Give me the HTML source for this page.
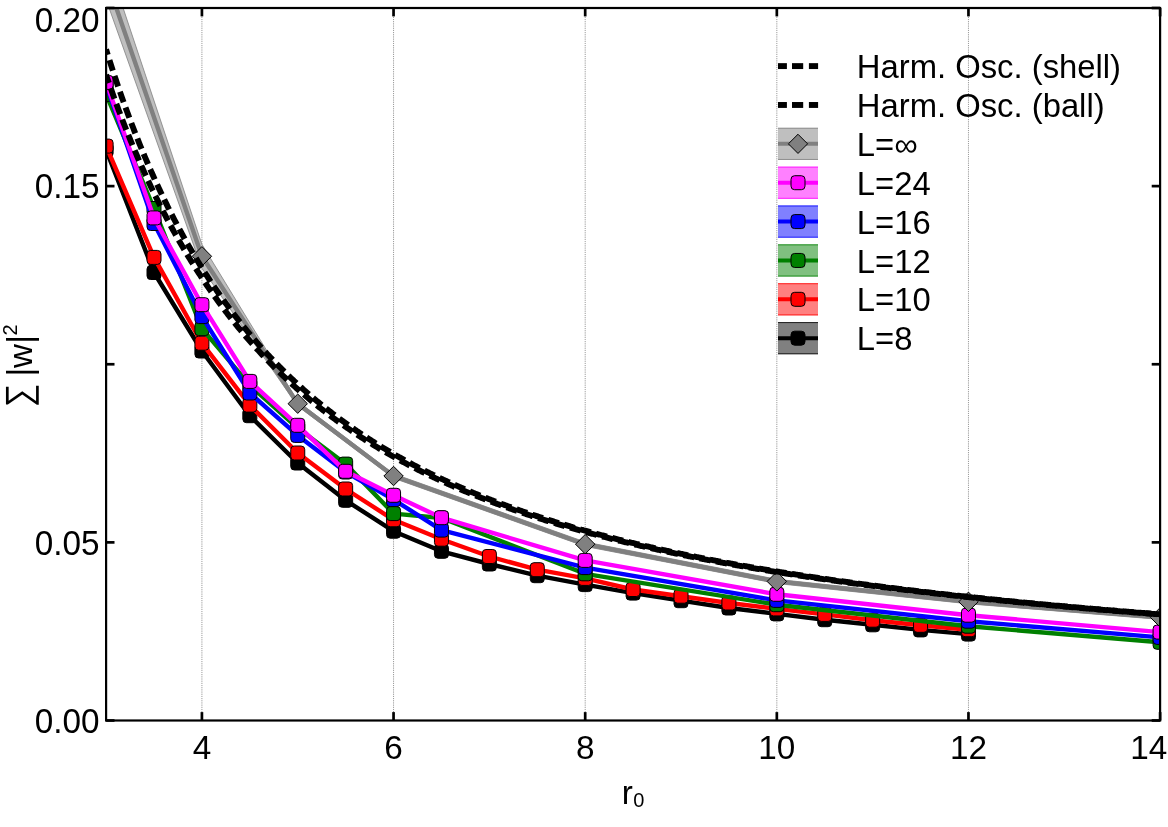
<!DOCTYPE html><html><head><meta charset="utf-8"><title>plot</title><style>html,body{margin:0;padding:0;background:#fff}svg{display:block;will-change:transform}text{font-family:"Liberation Sans",sans-serif;fill:#000}</style></head><body>
<svg width="1168" height="827" viewBox="0 0 1168 827">
<rect x="0" y="0" width="1168" height="827" fill="#fff"/>
<defs><clipPath id="ax"><rect x="106.1" y="8.0" width="1054.0" height="712.5"/></clipPath></defs>
<line x1="201.92" y1="8.0" x2="201.92" y2="720.5" stroke="#787878" stroke-width="1" stroke-dasharray="0.75,1.1"/>
<line x1="393.55" y1="8.0" x2="393.55" y2="720.5" stroke="#787878" stroke-width="1" stroke-dasharray="0.75,1.1"/>
<line x1="585.19" y1="8.0" x2="585.19" y2="720.5" stroke="#787878" stroke-width="1" stroke-dasharray="0.75,1.1"/>
<line x1="776.83" y1="8.0" x2="776.83" y2="720.5" stroke="#787878" stroke-width="1" stroke-dasharray="0.75,1.1"/>
<line x1="968.46" y1="8.0" x2="968.46" y2="720.5" stroke="#787878" stroke-width="1" stroke-dasharray="0.75,1.1"/>
<g clip-path="url(#ax)">
<polygon points="106.1,-43.0 201.9,244.3 297.7,401.3 393.6,473.8 585.2,542.0 776.8,579.3 968.5,599.8 1160.1,615.4 1160.1,619.4 968.5,603.8 776.8,583.5 585.2,546.4 393.6,478.2 297.7,406.1 201.9,268.3 106.1,-0.4" fill="#bfbfbf" stroke="#808080" stroke-width="0.8"/>
<polyline points="106.10,150.00 154.01,272.50 201.92,351.00 249.83,415.70 297.74,463.00 345.65,500.30 393.55,531.20 441.46,551.30 489.37,564.00 537.28,575.70 585.19,584.60 633.10,593.10 681.01,600.70 728.92,608.00 776.83,613.90 824.74,619.70 872.65,624.80 920.55,629.90 968.46,634.10" fill="none" stroke="#000000" stroke-width="4.4" stroke-linejoin="round"/>
<rect x="99.10" y="143.00" width="14.0" height="14.0" rx="3.6" ry="3.6" fill="#000000" stroke="#000" stroke-width="1"/>
<rect x="147.01" y="265.50" width="14.0" height="14.0" rx="3.6" ry="3.6" fill="#000000" stroke="#000" stroke-width="1"/>
<rect x="194.92" y="344.00" width="14.0" height="14.0" rx="3.6" ry="3.6" fill="#000000" stroke="#000" stroke-width="1"/>
<rect x="242.83" y="408.70" width="14.0" height="14.0" rx="3.6" ry="3.6" fill="#000000" stroke="#000" stroke-width="1"/>
<rect x="290.74" y="456.00" width="14.0" height="14.0" rx="3.6" ry="3.6" fill="#000000" stroke="#000" stroke-width="1"/>
<rect x="338.65" y="493.30" width="14.0" height="14.0" rx="3.6" ry="3.6" fill="#000000" stroke="#000" stroke-width="1"/>
<rect x="386.55" y="524.20" width="14.0" height="14.0" rx="3.6" ry="3.6" fill="#000000" stroke="#000" stroke-width="1"/>
<rect x="434.46" y="544.30" width="14.0" height="14.0" rx="3.6" ry="3.6" fill="#000000" stroke="#000" stroke-width="1"/>
<rect x="482.37" y="557.00" width="14.0" height="14.0" rx="3.6" ry="3.6" fill="#000000" stroke="#000" stroke-width="1"/>
<rect x="530.28" y="568.70" width="14.0" height="14.0" rx="3.6" ry="3.6" fill="#000000" stroke="#000" stroke-width="1"/>
<rect x="578.19" y="577.60" width="14.0" height="14.0" rx="3.6" ry="3.6" fill="#000000" stroke="#000" stroke-width="1"/>
<rect x="626.10" y="586.10" width="14.0" height="14.0" rx="3.6" ry="3.6" fill="#000000" stroke="#000" stroke-width="1"/>
<rect x="674.01" y="593.70" width="14.0" height="14.0" rx="3.6" ry="3.6" fill="#000000" stroke="#000" stroke-width="1"/>
<rect x="721.92" y="601.00" width="14.0" height="14.0" rx="3.6" ry="3.6" fill="#000000" stroke="#000" stroke-width="1"/>
<rect x="769.83" y="606.90" width="14.0" height="14.0" rx="3.6" ry="3.6" fill="#000000" stroke="#000" stroke-width="1"/>
<rect x="817.74" y="612.70" width="14.0" height="14.0" rx="3.6" ry="3.6" fill="#000000" stroke="#000" stroke-width="1"/>
<rect x="865.65" y="617.80" width="14.0" height="14.0" rx="3.6" ry="3.6" fill="#000000" stroke="#000" stroke-width="1"/>
<rect x="913.55" y="622.90" width="14.0" height="14.0" rx="3.6" ry="3.6" fill="#000000" stroke="#000" stroke-width="1"/>
<rect x="961.46" y="627.10" width="14.0" height="14.0" rx="3.6" ry="3.6" fill="#000000" stroke="#000" stroke-width="1"/>
<polyline points="106.10,146.10 154.01,257.40 201.92,343.20 249.83,405.10 297.74,453.00 345.65,489.00 393.55,519.80 441.46,539.20 489.37,556.50 537.28,569.70 585.19,578.40 633.10,589.50 681.01,596.20 728.92,603.00 776.83,608.90 824.74,614.40 872.65,620.20 920.55,625.30 968.46,629.70" fill="none" stroke="#ff0000" stroke-width="4.4" stroke-linejoin="round"/>
<rect x="99.10" y="139.10" width="14.0" height="14.0" rx="3.6" ry="3.6" fill="#ff0000" stroke="#000" stroke-width="1"/>
<rect x="147.01" y="250.40" width="14.0" height="14.0" rx="3.6" ry="3.6" fill="#ff0000" stroke="#000" stroke-width="1"/>
<rect x="194.92" y="336.20" width="14.0" height="14.0" rx="3.6" ry="3.6" fill="#ff0000" stroke="#000" stroke-width="1"/>
<rect x="242.83" y="398.10" width="14.0" height="14.0" rx="3.6" ry="3.6" fill="#ff0000" stroke="#000" stroke-width="1"/>
<rect x="290.74" y="446.00" width="14.0" height="14.0" rx="3.6" ry="3.6" fill="#ff0000" stroke="#000" stroke-width="1"/>
<rect x="338.65" y="482.00" width="14.0" height="14.0" rx="3.6" ry="3.6" fill="#ff0000" stroke="#000" stroke-width="1"/>
<rect x="386.55" y="512.80" width="14.0" height="14.0" rx="3.6" ry="3.6" fill="#ff0000" stroke="#000" stroke-width="1"/>
<rect x="434.46" y="532.20" width="14.0" height="14.0" rx="3.6" ry="3.6" fill="#ff0000" stroke="#000" stroke-width="1"/>
<rect x="482.37" y="549.50" width="14.0" height="14.0" rx="3.6" ry="3.6" fill="#ff0000" stroke="#000" stroke-width="1"/>
<rect x="530.28" y="562.70" width="14.0" height="14.0" rx="3.6" ry="3.6" fill="#ff0000" stroke="#000" stroke-width="1"/>
<rect x="578.19" y="571.40" width="14.0" height="14.0" rx="3.6" ry="3.6" fill="#ff0000" stroke="#000" stroke-width="1"/>
<rect x="626.10" y="582.50" width="14.0" height="14.0" rx="3.6" ry="3.6" fill="#ff0000" stroke="#000" stroke-width="1"/>
<rect x="674.01" y="589.20" width="14.0" height="14.0" rx="3.6" ry="3.6" fill="#ff0000" stroke="#000" stroke-width="1"/>
<rect x="721.92" y="596.00" width="14.0" height="14.0" rx="3.6" ry="3.6" fill="#ff0000" stroke="#000" stroke-width="1"/>
<rect x="769.83" y="601.90" width="14.0" height="14.0" rx="3.6" ry="3.6" fill="#ff0000" stroke="#000" stroke-width="1"/>
<rect x="817.74" y="607.40" width="14.0" height="14.0" rx="3.6" ry="3.6" fill="#ff0000" stroke="#000" stroke-width="1"/>
<rect x="865.65" y="613.20" width="14.0" height="14.0" rx="3.6" ry="3.6" fill="#ff0000" stroke="#000" stroke-width="1"/>
<rect x="913.55" y="618.30" width="14.0" height="14.0" rx="3.6" ry="3.6" fill="#ff0000" stroke="#000" stroke-width="1"/>
<rect x="961.46" y="622.70" width="14.0" height="14.0" rx="3.6" ry="3.6" fill="#ff0000" stroke="#000" stroke-width="1"/>
<polyline points="106.10,94.40 154.01,208.50 201.92,328.60 249.83,385.20 297.74,428.00 345.65,464.10 393.55,513.60 441.46,518.00 585.19,573.80 776.83,604.70 968.46,626.20 1160.10,642.30" fill="none" stroke="#008000" stroke-width="4.4" stroke-linejoin="round"/>
<rect x="99.10" y="87.40" width="14.0" height="14.0" rx="3.6" ry="3.6" fill="#008000" stroke="#000" stroke-width="1"/>
<rect x="147.01" y="201.50" width="14.0" height="14.0" rx="3.6" ry="3.6" fill="#008000" stroke="#000" stroke-width="1"/>
<rect x="194.92" y="321.60" width="14.0" height="14.0" rx="3.6" ry="3.6" fill="#008000" stroke="#000" stroke-width="1"/>
<rect x="242.83" y="378.20" width="14.0" height="14.0" rx="3.6" ry="3.6" fill="#008000" stroke="#000" stroke-width="1"/>
<rect x="290.74" y="421.00" width="14.0" height="14.0" rx="3.6" ry="3.6" fill="#008000" stroke="#000" stroke-width="1"/>
<rect x="338.65" y="457.10" width="14.0" height="14.0" rx="3.6" ry="3.6" fill="#008000" stroke="#000" stroke-width="1"/>
<rect x="386.55" y="506.60" width="14.0" height="14.0" rx="3.6" ry="3.6" fill="#008000" stroke="#000" stroke-width="1"/>
<rect x="434.46" y="511.00" width="14.0" height="14.0" rx="3.6" ry="3.6" fill="#008000" stroke="#000" stroke-width="1"/>
<rect x="578.19" y="566.80" width="14.0" height="14.0" rx="3.6" ry="3.6" fill="#008000" stroke="#000" stroke-width="1"/>
<rect x="769.83" y="597.70" width="14.0" height="14.0" rx="3.6" ry="3.6" fill="#008000" stroke="#000" stroke-width="1"/>
<rect x="961.46" y="619.20" width="14.0" height="14.0" rx="3.6" ry="3.6" fill="#008000" stroke="#000" stroke-width="1"/>
<rect x="1153.10" y="635.30" width="14.0" height="14.0" rx="3.6" ry="3.6" fill="#008000" stroke="#000" stroke-width="1"/>
<polyline points="106.10,84.50 154.01,223.50 201.92,316.60 249.83,393.00 297.74,435.40 345.65,472.00 393.55,499.60 441.46,530.10 585.19,567.60 776.83,600.40 968.46,621.20 1160.10,637.40" fill="none" stroke="#0000ff" stroke-width="4.4" stroke-linejoin="round"/>
<rect x="99.10" y="77.50" width="14.0" height="14.0" rx="3.6" ry="3.6" fill="#0000ff" stroke="#000" stroke-width="1"/>
<rect x="147.01" y="216.50" width="14.0" height="14.0" rx="3.6" ry="3.6" fill="#0000ff" stroke="#000" stroke-width="1"/>
<rect x="194.92" y="309.60" width="14.0" height="14.0" rx="3.6" ry="3.6" fill="#0000ff" stroke="#000" stroke-width="1"/>
<rect x="242.83" y="386.00" width="14.0" height="14.0" rx="3.6" ry="3.6" fill="#0000ff" stroke="#000" stroke-width="1"/>
<rect x="290.74" y="428.40" width="14.0" height="14.0" rx="3.6" ry="3.6" fill="#0000ff" stroke="#000" stroke-width="1"/>
<rect x="338.65" y="465.00" width="14.0" height="14.0" rx="3.6" ry="3.6" fill="#0000ff" stroke="#000" stroke-width="1"/>
<rect x="386.55" y="492.60" width="14.0" height="14.0" rx="3.6" ry="3.6" fill="#0000ff" stroke="#000" stroke-width="1"/>
<rect x="434.46" y="523.10" width="14.0" height="14.0" rx="3.6" ry="3.6" fill="#0000ff" stroke="#000" stroke-width="1"/>
<rect x="578.19" y="560.60" width="14.0" height="14.0" rx="3.6" ry="3.6" fill="#0000ff" stroke="#000" stroke-width="1"/>
<rect x="769.83" y="593.40" width="14.0" height="14.0" rx="3.6" ry="3.6" fill="#0000ff" stroke="#000" stroke-width="1"/>
<rect x="961.46" y="614.20" width="14.0" height="14.0" rx="3.6" ry="3.6" fill="#0000ff" stroke="#000" stroke-width="1"/>
<rect x="1153.10" y="630.40" width="14.0" height="14.0" rx="3.6" ry="3.6" fill="#0000ff" stroke="#000" stroke-width="1"/>
<polyline points="106.10,82.40 154.01,217.90 201.92,304.70 249.83,381.40 297.74,425.30 345.65,471.30 393.55,495.30 441.46,517.70 585.19,560.40 776.83,594.30 968.46,615.20 1160.10,632.10" fill="none" stroke="#ff00ff" stroke-width="4.4" stroke-linejoin="round"/>
<rect x="99.10" y="75.40" width="14.0" height="14.0" rx="3.6" ry="3.6" fill="#ff00ff" stroke="#000" stroke-width="1"/>
<rect x="147.01" y="210.90" width="14.0" height="14.0" rx="3.6" ry="3.6" fill="#ff00ff" stroke="#000" stroke-width="1"/>
<rect x="194.92" y="297.70" width="14.0" height="14.0" rx="3.6" ry="3.6" fill="#ff00ff" stroke="#000" stroke-width="1"/>
<rect x="242.83" y="374.40" width="14.0" height="14.0" rx="3.6" ry="3.6" fill="#ff00ff" stroke="#000" stroke-width="1"/>
<rect x="290.74" y="418.30" width="14.0" height="14.0" rx="3.6" ry="3.6" fill="#ff00ff" stroke="#000" stroke-width="1"/>
<rect x="338.65" y="464.30" width="14.0" height="14.0" rx="3.6" ry="3.6" fill="#ff00ff" stroke="#000" stroke-width="1"/>
<rect x="386.55" y="488.30" width="14.0" height="14.0" rx="3.6" ry="3.6" fill="#ff00ff" stroke="#000" stroke-width="1"/>
<rect x="434.46" y="510.70" width="14.0" height="14.0" rx="3.6" ry="3.6" fill="#ff00ff" stroke="#000" stroke-width="1"/>
<rect x="578.19" y="553.40" width="14.0" height="14.0" rx="3.6" ry="3.6" fill="#ff00ff" stroke="#000" stroke-width="1"/>
<rect x="769.83" y="587.30" width="14.0" height="14.0" rx="3.6" ry="3.6" fill="#ff00ff" stroke="#000" stroke-width="1"/>
<rect x="961.46" y="608.20" width="14.0" height="14.0" rx="3.6" ry="3.6" fill="#ff00ff" stroke="#000" stroke-width="1"/>
<rect x="1153.10" y="625.10" width="14.0" height="14.0" rx="3.6" ry="3.6" fill="#ff00ff" stroke="#000" stroke-width="1"/>
<polyline points="106.10,-21.70 201.92,256.30 297.74,403.70 393.55,476.00 585.19,544.20 776.83,581.40 968.46,601.80 1160.10,617.40" fill="none" stroke="#808080" stroke-width="4.4" stroke-linejoin="round"/>
<polygon points="201.92,246.60 211.62,256.30 201.92,266.00 192.22,256.30" fill="#808080" stroke="#000" stroke-width="1"/>
<polygon points="297.74,394.00 307.44,403.70 297.74,413.40 288.04,403.70" fill="#808080" stroke="#000" stroke-width="1"/>
<polygon points="393.55,466.30 403.25,476.00 393.55,485.70 383.85,476.00" fill="#808080" stroke="#000" stroke-width="1"/>
<polygon points="585.19,534.50 594.89,544.20 585.19,553.90 575.49,544.20" fill="#808080" stroke="#000" stroke-width="1"/>
<polygon points="776.83,571.70 786.53,581.40 776.83,591.10 767.13,581.40" fill="#808080" stroke="#000" stroke-width="1"/>
<polygon points="968.46,592.10 978.16,601.80 968.46,611.50 958.76,601.80" fill="#808080" stroke="#000" stroke-width="1"/>
<polygon points="1160.10,607.70 1169.80,617.40 1160.10,627.10 1150.40,617.40" fill="#808080" stroke="#000" stroke-width="1"/>
<path d="M106.10,74.82 L106.98,77.41 L107.86,79.97 L108.74,82.52 L109.62,85.06 L110.50,87.57 L111.37,90.07 L112.25,92.54 L113.13,95.00 L114.01,97.45 L114.89,99.87 L115.77,102.28 L116.65,104.68 L117.53,107.05 L118.41,109.41 L119.29,111.75 L120.17,114.08 L121.04,116.39 L121.92,118.69 L122.80,120.97 L123.68,123.23 L124.56,125.48 L125.44,127.72 L126.32,129.94 L127.20,132.15 L128.08,134.34 L128.96,136.51 L129.83,138.68 L130.71,140.83 L131.59,142.96 L132.47,145.08 L133.35,147.19 L134.23,149.28 L135.11,151.36 L135.99,153.43 L136.87,155.48 L137.75,157.52 L138.63,159.55 L139.50,161.57 L140.38,163.57 L141.26,165.56 L142.14,167.54 L143.02,169.50 L143.90,171.46 L144.78,173.40 L145.66,175.33 L146.54,177.24 L147.42,179.15 L148.30,181.04 L149.17,182.93 L150.05,184.80 L150.93,186.66 L151.81,188.50 L152.69,190.34 L153.57,192.17 L154.45,193.98 L155.33,195.79 L156.21,197.58 L157.09,199.36 L157.96,201.14 L158.84,202.90 L159.72,204.65 L160.60,206.39 L161.48,208.12 L162.36,209.84 L163.24,211.55 L164.12,213.25 L165.00,214.94 L165.88,216.62 L166.76,218.29 L167.63,219.96 L168.51,221.61 L169.39,223.25 L170.27,224.88 L171.15,226.50 L172.03,228.12 L172.91,229.72 L173.79,231.32 L174.67,232.90 L175.55,234.48 L176.43,236.05 L177.30,237.61 L178.18,239.16 L179.06,240.70 L179.94,242.24 L180.82,243.76 L181.70,245.28 L182.58,246.78 L183.46,248.28 L184.34,249.77 L185.22,251.26 L186.09,252.73 L186.97,254.20 L187.85,255.65 L188.73,257.10 L189.61,258.54 L190.49,259.98 L191.37,261.40 L192.25,262.82 L193.13,264.23 L194.01,265.64 L194.89,267.03 L195.76,268.42 L196.64,269.80 L197.52,271.17 L198.40,272.53 L199.28,273.89 L200.16,275.24 L201.04,276.58 L201.92,277.92 L202.80,279.25 L203.68,280.57 L204.56,281.88 L205.43,283.19 L206.31,284.49 L207.19,285.78 L208.07,287.07 L208.95,288.35 L209.83,289.62 L210.71,290.89 L211.59,292.15 L212.47,293.40 L213.35,294.64 L214.23,295.88 L215.10,297.12 L215.98,298.34 L216.86,299.56 L217.74,300.78 L218.62,301.98 L219.50,303.18 L220.38,304.38 L221.26,305.57 L222.14,306.75 L223.02,307.92 L223.89,309.09 L224.77,310.26 L225.65,311.42 L226.53,312.57 L227.41,313.71 L228.29,314.85 L229.17,315.99 L230.05,317.12 L230.93,318.24 L231.81,319.36 L232.69,320.47 L233.56,321.57 L234.44,322.67 L235.32,323.77 L236.20,324.86 L237.08,325.94 L237.96,327.02 L238.84,328.09 L239.72,329.16 L240.60,330.22 L241.48,331.28 L242.36,332.33 L243.23,333.37 L244.11,334.41 L244.99,335.45 L245.87,336.48 L246.75,337.51 L247.63,338.53 L248.51,339.54 L249.39,340.55 L250.27,341.56 L251.15,342.56 L252.02,343.55 L252.90,344.54 L253.78,345.53 L254.66,346.51 L255.54,347.48 L256.42,348.45 L257.30,349.42 L258.18,350.38 L259.06,351.34 L259.94,352.29 L260.82,353.24 L261.69,354.18 L262.57,355.12 L263.45,356.05 L264.33,356.98 L265.21,357.91 L266.09,358.83 L266.97,359.75 L267.85,360.66 L268.73,361.56 L269.61,362.47 L270.49,363.37 L271.36,364.26 L272.24,365.15 L273.12,366.04 L274.00,366.92 L274.88,367.80 L275.76,368.67 L276.64,369.54 L277.52,370.41 L278.40,371.27 L279.28,372.12 L280.16,372.98 L281.03,373.83 L281.91,374.67 L282.79,375.51 L283.67,376.35 L284.55,377.18 L285.43,378.01 L286.31,378.84 L287.19,379.66 L288.07,380.48 L288.95,381.29 L289.82,382.10 L290.70,382.91 L291.58,383.71 L292.46,384.51 L293.34,385.31 L294.22,386.10 L295.10,386.89 L295.98,387.68 L296.86,388.46 L297.74,389.24 L298.62,390.01 L299.49,390.78 L300.37,391.55 L301.25,392.31 L302.13,393.07 L303.01,393.83 L303.89,394.58 L304.77,395.33 L305.65,396.08 L306.53,396.82 L307.41,397.56 L308.29,398.30 L309.16,399.03 L310.04,399.76 L310.92,400.49 L311.80,401.22 L312.68,401.94 L313.56,402.65 L314.44,403.37 L315.32,404.08 L316.20,404.79 L317.08,405.49 L317.95,406.19 L318.83,406.89 L319.71,407.59 L320.59,408.28 L321.47,408.97 L322.35,409.66 L323.23,410.34 L324.11,411.02 L324.99,411.70 L325.87,412.38 L326.75,413.05 L327.62,413.72 L328.50,414.38 L329.38,415.05 L330.26,415.71 L331.14,416.36 L332.02,417.02 L332.90,417.67 L333.78,418.32 L334.66,418.97 L335.54,419.61 L336.42,420.25 L337.29,420.89 L338.17,421.53 L339.05,422.16 L339.93,422.79 L340.81,423.42 L341.69,424.04 L342.57,424.66 L343.45,425.28 L344.33,425.90 L345.21,426.51 L346.08,427.13 L346.96,427.74 L347.84,428.34 L348.72,428.95 L349.60,429.55 L350.48,430.15 L351.36,430.75 L352.24,431.34 L353.12,431.93 L354.00,432.52 L354.88,433.11 L355.75,433.69 L356.63,434.28 L357.51,434.86 L358.39,435.43 L359.27,436.01 L360.15,436.58 L361.03,437.15 L361.91,437.72 L362.79,438.29 L363.67,438.85 L364.55,439.41 L365.42,439.97 L366.30,440.53 L367.18,441.08 L368.06,441.63 L368.94,442.18 L369.82,442.73 L370.70,443.28 L371.58,443.82 L372.46,444.36 L373.34,444.90 L374.22,445.44 L375.09,445.97 L375.97,446.51 L376.85,447.04 L377.73,447.57 L378.61,448.09 L379.49,448.62 L380.37,449.14 L381.25,449.66 L382.13,450.18 L383.01,450.69 L383.88,451.21 L384.76,451.72 L385.64,452.23 L386.52,452.74 L387.40,453.25 L388.28,453.75 L389.16,454.25 L390.04,454.75 L390.92,455.25 L391.80,455.75 L392.68,456.24 L393.55,456.73 L394.43,457.23 L395.31,457.71 L396.19,458.20 L397.07,458.69 L397.95,459.17 L398.83,459.65 L399.71,460.13 L400.59,460.61 L401.47,461.09 L402.35,461.56 L403.22,462.03 L404.10,462.50 L404.98,462.97 L405.86,463.44 L406.74,463.91 L407.62,464.37 L408.50,464.83 L409.38,465.29 L410.26,465.75 L411.14,466.21 L412.01,466.66 L412.89,467.12 L413.77,467.57 L414.65,468.02 L415.53,468.47 L416.41,468.91 L417.29,469.36 L418.17,469.80 L419.05,470.24 L419.93,470.68 L420.81,471.12 L421.68,471.56 L422.56,471.99 L423.44,472.43 L424.32,472.86 L425.20,473.29 L426.08,473.72 L426.96,474.15 L427.84,474.57 L428.72,475.00 L429.60,475.42 L430.48,475.84 L431.35,476.26 L432.23,476.68 L433.11,477.10 L433.99,477.51 L434.87,477.93 L435.75,478.34 L436.63,478.75 L437.51,479.16 L438.39,479.57 L439.27,479.97 L440.15,480.38 L441.02,480.78 L441.90,481.19 L442.78,481.59 L443.66,481.99 L444.54,482.38 L445.42,482.78 L446.30,483.18 L447.18,483.57 L448.06,483.96 L448.94,484.35 L449.81,484.74 L450.69,485.13 L451.57,485.52 L452.45,485.90 L453.33,486.29 L454.21,486.67 L455.09,487.05 L455.97,487.43 L456.85,487.81 L457.73,488.19 L458.61,488.57 L459.48,488.94 L460.36,489.32 L461.24,489.69 L462.12,490.06 L463.00,490.43 L463.88,490.80 L464.76,491.17 L465.64,491.53 L466.52,491.90 L467.40,492.26 L468.28,492.62 L469.15,492.99 L470.03,493.35 L470.91,493.70 L471.79,494.06 L472.67,494.42 L473.55,494.77 L474.43,495.13 L475.31,495.48 L476.19,495.83 L477.07,496.18 L477.94,496.53 L478.82,496.88 L479.70,497.23 L480.58,497.57 L481.46,497.92 L482.34,498.26 L483.22,498.61 L484.10,498.95 L484.98,499.29 L485.86,499.63 L486.74,499.96 L487.61,500.30 L488.49,500.64 L489.37,500.97 L490.25,501.31 L491.13,501.64 L492.01,501.97 L492.89,502.30 L493.77,502.63 L494.65,502.96 L495.53,503.29 L496.41,503.61 L497.28,503.94 L498.16,504.26 L499.04,504.58 L499.92,504.91 L500.80,505.23 L501.68,505.55 L502.56,505.87 L503.44,506.18 L504.32,506.50 L505.20,506.82 L506.07,507.13 L506.95,507.45 L507.83,507.76 L508.71,508.07 L509.59,508.38 L510.47,508.69 L511.35,509.00 L512.23,509.31 L513.11,509.62 L513.99,509.92 L514.87,510.23 L515.74,510.53 L516.62,510.83 L517.50,511.14 L518.38,511.44 L519.26,511.74 L520.14,512.04 L521.02,512.34 L521.90,512.63 L522.78,512.93 L523.66,513.23 L524.54,513.52 L525.41,513.82 L526.29,514.11 L527.17,514.40 L528.05,514.69 L528.93,514.98 L529.81,515.27 L530.69,515.56 L531.57,515.85 L532.45,516.14 L533.33,516.42 L534.21,516.71 L535.08,516.99 L535.96,517.27 L536.84,517.56 L537.72,517.84 L538.60,518.12 L539.48,518.40 L540.36,518.68 L541.24,518.96 L542.12,519.23 L543.00,519.51 L543.87,519.79 L544.75,520.06 L545.63,520.34 L546.51,520.61 L547.39,520.88 L548.27,521.15 L549.15,521.42 L550.03,521.70 L550.91,521.96 L551.79,522.23 L552.67,522.50 L553.54,522.77 L554.42,523.03 L555.30,523.30 L556.18,523.56 L557.06,523.83 L557.94,524.09 L558.82,524.35 L559.70,524.62 L560.58,524.88 L561.46,525.14 L562.34,525.40 L563.21,525.65 L564.09,525.91 L564.97,526.17 L565.85,526.43 L566.73,526.68 L567.61,526.94 L568.49,527.19 L569.37,527.44 L570.25,527.70 L571.13,527.95 L572.00,528.20 L572.88,528.45 L573.76,528.70 L574.64,528.95 L575.52,529.20 L576.40,529.44 L577.28,529.69 L578.16,529.94 L579.04,530.18 L579.92,530.43 L580.80,530.67 L581.67,530.92 L582.55,531.16 L583.43,531.40 L584.31,531.64 L585.19,531.88 L586.07,532.12 L586.95,532.36 L587.83,532.60 L588.71,532.84 L589.59,533.08 L590.47,533.31 L591.34,533.55 L592.22,533.79 L593.10,534.02 L593.98,534.25 L594.86,534.49 L595.74,534.72 L596.62,534.95 L597.50,535.19 L598.38,535.42 L599.26,535.65 L600.14,535.88 L601.01,536.11 L601.89,536.33 L602.77,536.56 L603.65,536.79 L604.53,537.02 L605.41,537.24 L606.29,537.47 L607.17,537.69 L608.05,537.92 L608.93,538.14 L609.80,538.36 L610.68,538.58 L611.56,538.81 L612.44,539.03 L613.32,539.25 L614.20,539.47 L615.08,539.69 L615.96,539.91 L616.84,540.13 L617.72,540.34 L618.60,540.56 L619.47,540.78 L620.35,540.99 L621.23,541.21 L622.11,541.42 L622.99,541.64 L623.87,541.85 L624.75,542.06 L625.63,542.28 L626.51,542.49 L627.39,542.70 L628.27,542.91 L629.14,543.12 L630.02,543.33 L630.90,543.54 L631.78,543.75 L632.66,543.96 L633.54,544.16 L634.42,544.37 L635.30,544.58 L636.18,544.78 L637.06,544.99 L637.93,545.19 L638.81,545.40 L639.69,545.60 L640.57,545.81 L641.45,546.01 L642.33,546.21 L643.21,546.41 L644.09,546.61 L644.97,546.82 L645.85,547.02 L646.73,547.22 L647.60,547.41 L648.48,547.61 L649.36,547.81 L650.24,548.01 L651.12,548.21 L652.00,548.40 L652.88,548.60 L653.76,548.80 L654.64,548.99 L655.52,549.19 L656.40,549.38 L657.27,549.57 L658.15,549.77 L659.03,549.96 L659.91,550.15 L660.79,550.34 L661.67,550.54 L662.55,550.73 L663.43,550.92 L664.31,551.11 L665.19,551.30 L666.06,551.48 L666.94,551.67 L667.82,551.86 L668.70,552.05 L669.58,552.24 L670.46,552.42 L671.34,552.61 L672.22,552.80 L673.10,552.98 L673.98,553.17 L674.86,553.35 L675.73,553.53 L676.61,553.72 L677.49,553.90 L678.37,554.08 L679.25,554.27 L680.13,554.45 L681.01,554.63 L681.89,554.81 L682.77,554.99 L683.65,555.17 L684.53,555.35 L685.40,555.53 L686.28,555.71 L687.16,555.89 L688.04,556.06 L688.92,556.24 L689.80,556.42 L690.68,556.59 L691.56,556.77 L692.44,556.95 L693.32,557.12 L694.20,557.30 L695.07,557.47 L695.95,557.64 L696.83,557.82 L697.71,557.99 L698.59,558.16 L699.47,558.34 L700.35,558.51 L701.23,558.68 L702.11,558.85 L702.99,559.02 L703.86,559.19 L704.74,559.36 L705.62,559.53 L706.50,559.70 L707.38,559.87 L708.26,560.04 L709.14,560.21 L710.02,560.37 L710.90,560.54 L711.78,560.71 L712.66,560.88 L713.53,561.04 L714.41,561.21 L715.29,561.37 L716.17,561.54 L717.05,561.70 L717.93,561.87 L718.81,562.03 L719.69,562.19 L720.57,562.36 L721.45,562.52 L722.33,562.68 L723.20,562.84 L724.08,563.01 L724.96,563.17 L725.84,563.33 L726.72,563.49 L727.60,563.65 L728.48,563.81 L729.36,563.97 L730.24,564.13 L731.12,564.28 L731.99,564.44 L732.87,564.60 L733.75,564.76 L734.63,564.92 L735.51,565.07 L736.39,565.23 L737.27,565.39 L738.15,565.54 L739.03,565.70 L739.91,565.85 L740.79,566.01 L741.66,566.16 L742.54,566.32 L743.42,566.47 L744.30,566.62 L745.18,566.78 L746.06,566.93 L746.94,567.08 L747.82,567.23 L748.70,567.39 L749.58,567.54 L750.46,567.69 L751.33,567.84 L752.21,567.99 L753.09,568.14 L753.97,568.29 L754.85,568.44 L755.73,568.59 L756.61,568.74 L757.49,568.88 L758.37,569.03 L759.25,569.18 L760.13,569.33 L761.00,569.48 L761.88,569.62 L762.76,569.77 L763.64,569.91 L764.52,570.06 L765.40,570.21 L766.28,570.35 L767.16,570.50 L768.04,570.64 L768.92,570.79 L769.79,570.93 L770.67,571.07 L771.55,571.22 L772.43,571.36 L773.31,571.50 L774.19,571.65 L775.07,571.79 L775.95,571.93 L776.83,572.07 L777.71,572.21 L778.59,572.35 L779.46,572.49 L780.34,572.63 L781.22,572.77 L782.10,572.91 L782.98,573.05 L783.86,573.19 L784.74,573.33 L785.62,573.47 L786.50,573.61 L787.38,573.75 L788.26,573.88 L789.13,574.02 L790.01,574.16 L790.89,574.30 L791.77,574.43 L792.65,574.57 L793.53,574.71 L794.41,574.84 L795.29,574.98 L796.17,575.11 L797.05,575.25 L797.92,575.38 L798.80,575.52 L799.68,575.65 L800.56,575.78 L801.44,575.92 L802.32,576.05 L803.20,576.18 L804.08,576.32 L804.96,576.45 L805.84,576.58 L806.72,576.71 L807.59,576.84 L808.47,576.98 L809.35,577.11 L810.23,577.24 L811.11,577.37 L811.99,577.50 L812.87,577.63 L813.75,577.76 L814.63,577.89 L815.51,578.02 L816.39,578.15 L817.26,578.28 L818.14,578.40 L819.02,578.53 L819.90,578.66 L820.78,578.79 L821.66,578.92 L822.54,579.04 L823.42,579.17 L824.30,579.30 L825.18,579.42 L826.05,579.55 L826.93,579.68 L827.81,579.80 L828.69,579.93 L829.57,580.05 L830.45,580.18 L831.33,580.30 L832.21,580.43 L833.09,580.55 L833.97,580.67 L834.85,580.80 L835.72,580.92 L836.60,581.04 L837.48,581.17 L838.36,581.29 L839.24,581.41 L840.12,581.53 L841.00,581.66 L841.88,581.78 L842.76,581.90 L843.64,582.02 L844.52,582.14 L845.39,582.26 L846.27,582.38 L847.15,582.50 L848.03,582.62 L848.91,582.74 L849.79,582.86 L850.67,582.98 L851.55,583.10 L852.43,583.22 L853.31,583.34 L854.19,583.46 L855.06,583.58 L855.94,583.70 L856.82,583.81 L857.70,583.93 L858.58,584.05 L859.46,584.17 L860.34,584.28 L861.22,584.40 L862.10,584.52 L862.98,584.63 L863.85,584.75 L864.73,584.86 L865.61,584.98 L866.49,585.10 L867.37,585.21 L868.25,585.33 L869.13,585.44 L870.01,585.55 L870.89,585.67 L871.77,585.78 L872.65,585.90 L873.52,586.01 L874.40,586.12 L875.28,586.24 L876.16,586.35 L877.04,586.46 L877.92,586.58 L878.80,586.69 L879.68,586.80 L880.56,586.91 L881.44,587.02 L882.32,587.14 L883.19,587.25 L884.07,587.36 L884.95,587.47 L885.83,587.58 L886.71,587.69 L887.59,587.80 L888.47,587.91 L889.35,588.02 L890.23,588.13 L891.11,588.24 L891.98,588.35 L892.86,588.46 L893.74,588.57 L894.62,588.68 L895.50,588.78 L896.38,588.89 L897.26,589.00 L898.14,589.11 L899.02,589.22 L899.90,589.32 L900.78,589.43 L901.65,589.54 L902.53,589.65 L903.41,589.75 L904.29,589.86 L905.17,589.97 L906.05,590.07 L906.93,590.18 L907.81,590.28 L908.69,590.39 L909.57,590.49 L910.45,590.60 L911.32,590.70 L912.20,590.81 L913.08,590.91 L913.96,591.02 L914.84,591.12 L915.72,591.23 L916.60,591.33 L917.48,591.43 L918.36,591.54 L919.24,591.64 L920.12,591.75 L920.99,591.85 L921.87,591.95 L922.75,592.05 L923.63,592.16 L924.51,592.26 L925.39,592.36 L926.27,592.46 L927.15,592.56 L928.03,592.67 L928.91,592.77 L929.78,592.87 L930.66,592.97 L931.54,593.07 L932.42,593.17 L933.30,593.27 L934.18,593.37 L935.06,593.47 L935.94,593.57 L936.82,593.67 L937.70,593.77 L938.58,593.87 L939.45,593.97 L940.33,594.07 L941.21,594.17 L942.09,594.27 L942.97,594.36 L943.85,594.46 L944.73,594.56 L945.61,594.66 L946.49,594.76 L947.37,594.86 L948.25,594.95 L949.12,595.05 L950.00,595.15 L950.88,595.24 L951.76,595.34 L952.64,595.44 L953.52,595.53 L954.40,595.63 L955.28,595.73 L956.16,595.82 L957.04,595.92 L957.91,596.01 L958.79,596.11 L959.67,596.21 L960.55,596.30 L961.43,596.40 L962.31,596.49 L963.19,596.59 L964.07,596.68 L964.95,596.77 L965.83,596.87 L966.71,596.96 L967.58,597.06 L968.46,597.15 L969.34,597.24 L970.22,597.34 L971.10,597.43 L971.98,597.52 L972.86,597.62 L973.74,597.71 L974.62,597.80 L975.50,597.90 L976.38,597.99 L977.25,598.08 L978.13,598.17 L979.01,598.26 L979.89,598.36 L980.77,598.45 L981.65,598.54 L982.53,598.63 L983.41,598.72 L984.29,598.81 L985.17,598.90 L986.04,598.99 L986.92,599.09 L987.80,599.18 L988.68,599.27 L989.56,599.36 L990.44,599.45 L991.32,599.54 L992.20,599.63 L993.08,599.72 L993.96,599.80 L994.84,599.89 L995.71,599.98 L996.59,600.07 L997.47,600.16 L998.35,600.25 L999.23,600.34 L1000.11,600.43 L1000.99,600.51 L1001.87,600.60 L1002.75,600.69 L1003.63,600.78 L1004.51,600.87 L1005.38,600.95 L1006.26,601.04 L1007.14,601.13 L1008.02,601.22 L1008.90,601.30 L1009.78,601.39 L1010.66,601.48 L1011.54,601.56 L1012.42,601.65 L1013.30,601.73 L1014.18,601.82 L1015.05,601.91 L1015.93,601.99 L1016.81,602.08 L1017.69,602.16 L1018.57,602.25 L1019.45,602.33 L1020.33,602.42 L1021.21,602.51 L1022.09,602.59 L1022.97,602.67 L1023.84,602.76 L1024.72,602.84 L1025.60,602.93 L1026.48,603.01 L1027.36,603.10 L1028.24,603.18 L1029.12,603.26 L1030.00,603.35 L1030.88,603.43 L1031.76,603.51 L1032.64,603.60 L1033.51,603.68 L1034.39,603.76 L1035.27,603.85 L1036.15,603.93 L1037.03,604.01 L1037.91,604.10 L1038.79,604.18 L1039.67,604.26 L1040.55,604.34 L1041.43,604.42 L1042.31,604.51 L1043.18,604.59 L1044.06,604.67 L1044.94,604.75 L1045.82,604.83 L1046.70,604.91 L1047.58,604.99 L1048.46,605.08 L1049.34,605.16 L1050.22,605.24 L1051.10,605.32 L1051.97,605.40 L1052.85,605.48 L1053.73,605.56 L1054.61,605.64 L1055.49,605.72 L1056.37,605.80 L1057.25,605.88 L1058.13,605.96 L1059.01,606.04 L1059.89,606.12 L1060.77,606.20 L1061.64,606.28 L1062.52,606.35 L1063.40,606.43 L1064.28,606.51 L1065.16,606.59 L1066.04,606.67 L1066.92,606.75 L1067.80,606.83 L1068.68,606.90 L1069.56,606.98 L1070.44,607.06 L1071.31,607.14 L1072.19,607.22 L1073.07,607.29 L1073.95,607.37 L1074.83,607.45 L1075.71,607.53 L1076.59,607.60 L1077.47,607.68 L1078.35,607.76 L1079.23,607.83 L1080.11,607.91 L1080.98,607.99 L1081.86,608.06 L1082.74,608.14 L1083.62,608.22 L1084.50,608.29 L1085.38,608.37 L1086.26,608.44 L1087.14,608.52 L1088.02,608.59 L1088.90,608.67 L1089.77,608.75 L1090.65,608.82 L1091.53,608.90 L1092.41,608.97 L1093.29,609.05 L1094.17,609.12 L1095.05,609.20 L1095.93,609.27 L1096.81,609.35 L1097.69,609.42 L1098.57,609.49 L1099.44,609.57 L1100.32,609.64 L1101.20,609.72 L1102.08,609.79 L1102.96,609.86 L1103.84,609.94 L1104.72,610.01 L1105.60,610.08 L1106.48,610.16 L1107.36,610.23 L1108.24,610.30 L1109.11,610.38 L1109.99,610.45 L1110.87,610.52 L1111.75,610.60 L1112.63,610.67 L1113.51,610.74 L1114.39,610.81 L1115.27,610.89 L1116.15,610.96 L1117.03,611.03 L1117.90,611.10 L1118.78,611.17 L1119.66,611.25 L1120.54,611.32 L1121.42,611.39 L1122.30,611.46 L1123.18,611.53 L1124.06,611.60 L1124.94,611.67 L1125.82,611.74 L1126.70,611.82 L1127.57,611.89 L1128.45,611.96 L1129.33,612.03 L1130.21,612.10 L1131.09,612.17 L1131.97,612.24 L1132.85,612.31 L1133.73,612.38 L1134.61,612.45 L1135.49,612.52 L1136.37,612.59 L1137.24,612.66 L1138.12,612.73 L1139.00,612.80 L1139.88,612.87 L1140.76,612.94 L1141.64,613.01 L1142.52,613.07 L1143.40,613.14 L1144.28,613.21 L1145.16,613.28 L1146.03,613.35 L1146.91,613.42 L1147.79,613.49 L1148.67,613.56 L1149.55,613.62 L1150.43,613.69 L1151.31,613.76 L1152.19,613.83 L1153.07,613.90 L1153.95,613.96 L1154.83,614.03 L1155.70,614.10 L1156.58,614.17 L1157.46,614.24 L1158.34,614.30 L1159.22,614.37 L1160.10,614.44" fill="none" stroke="#000" stroke-width="5.9" stroke-dasharray="11.1,5.56" stroke-dashoffset="2.51"/>
<path d="M106.10,49.47 L106.98,52.31 L107.86,55.12 L108.74,57.92 L109.62,60.69 L110.50,63.44 L111.37,66.17 L112.25,68.88 L113.13,71.57 L114.01,74.24 L114.89,76.89 L115.77,79.52 L116.65,82.13 L117.53,84.72 L118.41,87.29 L119.29,89.85 L120.17,92.38 L121.04,94.90 L121.92,97.40 L122.80,99.88 L123.68,102.34 L124.56,104.78 L125.44,107.21 L126.32,109.62 L127.20,112.01 L128.08,114.39 L128.96,116.75 L129.83,119.09 L130.71,121.42 L131.59,123.73 L132.47,126.03 L133.35,128.31 L134.23,130.57 L135.11,132.82 L135.99,135.05 L136.87,137.27 L137.75,139.47 L138.63,141.66 L139.50,143.83 L140.38,145.99 L141.26,148.14 L142.14,150.27 L143.02,152.39 L143.90,154.49 L144.78,156.58 L145.66,158.65 L146.54,160.71 L147.42,162.76 L148.30,164.80 L149.17,166.82 L150.05,168.83 L150.93,170.82 L151.81,172.81 L152.69,174.78 L153.57,176.74 L154.45,178.68 L155.33,180.62 L156.21,182.54 L157.09,184.44 L157.96,186.34 L158.84,188.23 L159.72,190.10 L160.60,191.96 L161.48,193.81 L162.36,195.65 L163.24,197.48 L164.12,199.29 L165.00,201.10 L165.88,202.89 L166.76,204.67 L167.63,206.44 L168.51,208.21 L169.39,209.96 L170.27,211.70 L171.15,213.42 L172.03,215.14 L172.91,216.85 L173.79,218.55 L174.67,220.24 L175.55,221.91 L176.43,223.58 L177.30,225.24 L178.18,226.89 L179.06,228.53 L179.94,230.15 L180.82,231.77 L181.70,233.38 L182.58,234.98 L183.46,236.57 L184.34,238.15 L185.22,239.72 L186.09,241.29 L186.97,242.84 L187.85,244.39 L188.73,245.92 L189.61,247.45 L190.49,248.97 L191.37,250.47 L192.25,251.98 L193.13,253.47 L194.01,254.95 L194.89,256.43 L195.76,257.89 L196.64,259.35 L197.52,260.80 L198.40,262.24 L199.28,263.67 L200.16,265.10 L201.04,266.52 L201.92,267.93 L202.80,269.33 L203.68,270.72 L204.56,272.11 L205.43,273.49 L206.31,274.86 L207.19,276.22 L208.07,277.57 L208.95,278.92 L209.83,280.26 L210.71,281.59 L211.59,282.92 L212.47,284.24 L213.35,285.55 L214.23,286.85 L215.10,288.15 L215.98,289.44 L216.86,290.72 L217.74,292.00 L218.62,293.27 L219.50,294.53 L220.38,295.78 L221.26,297.03 L222.14,298.27 L223.02,299.51 L223.89,300.73 L224.77,301.96 L225.65,303.17 L226.53,304.38 L227.41,305.58 L228.29,306.78 L229.17,307.97 L230.05,309.15 L230.93,310.33 L231.81,311.50 L232.69,312.66 L233.56,313.82 L234.44,314.97 L235.32,316.12 L236.20,317.26 L237.08,318.39 L237.96,319.52 L238.84,320.64 L239.72,321.76 L240.60,322.87 L241.48,323.98 L242.36,325.07 L243.23,326.17 L244.11,327.26 L244.99,328.34 L245.87,329.41 L246.75,330.49 L247.63,331.55 L248.51,332.61 L249.39,333.67 L250.27,334.72 L251.15,335.76 L252.02,336.80 L252.90,337.83 L253.78,338.86 L254.66,339.88 L255.54,340.90 L256.42,341.92 L257.30,342.92 L258.18,343.93 L259.06,344.92 L259.94,345.92 L260.82,346.90 L261.69,347.89 L262.57,348.86 L263.45,349.84 L264.33,350.81 L265.21,351.77 L266.09,352.73 L266.97,353.68 L267.85,354.63 L268.73,355.58 L269.61,356.52 L270.49,357.45 L271.36,358.38 L272.24,359.31 L273.12,360.23 L274.00,361.15 L274.88,362.06 L275.76,362.97 L276.64,363.87 L277.52,364.77 L278.40,365.67 L279.28,366.56 L280.16,367.44 L281.03,368.33 L281.91,369.20 L282.79,370.08 L283.67,370.95 L284.55,371.81 L285.43,372.67 L286.31,373.53 L287.19,374.39 L288.07,375.23 L288.95,376.08 L289.82,376.92 L290.70,377.76 L291.58,378.59 L292.46,379.42 L293.34,380.25 L294.22,381.07 L295.10,381.89 L295.98,382.70 L296.86,383.51 L297.74,384.32 L298.62,385.12 L299.49,385.92 L300.37,386.71 L301.25,387.50 L302.13,388.29 L303.01,389.08 L303.89,389.86 L304.77,390.63 L305.65,391.41 L306.53,392.18 L307.41,392.94 L308.29,393.71 L309.16,394.47 L310.04,395.22 L310.92,395.97 L311.80,396.72 L312.68,397.47 L313.56,398.21 L314.44,398.95 L315.32,399.69 L316.20,400.42 L317.08,401.15 L317.95,401.87 L318.83,402.60 L319.71,403.31 L320.59,404.03 L321.47,404.74 L322.35,405.45 L323.23,406.16 L324.11,406.86 L324.99,407.56 L325.87,408.26 L326.75,408.95 L327.62,409.65 L328.50,410.33 L329.38,411.02 L330.26,411.70 L331.14,412.38 L332.02,413.06 L332.90,413.73 L333.78,414.40 L334.66,415.07 L335.54,415.73 L336.42,416.39 L337.29,417.05 L338.17,417.71 L339.05,418.36 L339.93,419.01 L340.81,419.66 L341.69,420.30 L342.57,420.94 L343.45,421.58 L344.33,422.22 L345.21,422.85 L346.08,423.48 L346.96,424.11 L347.84,424.74 L348.72,425.36 L349.60,425.98 L350.48,426.60 L351.36,427.21 L352.24,427.82 L353.12,428.43 L354.00,429.04 L354.88,429.65 L355.75,430.25 L356.63,430.85 L357.51,431.45 L358.39,432.04 L359.27,432.63 L360.15,433.22 L361.03,433.81 L361.91,434.39 L362.79,434.98 L363.67,435.56 L364.55,436.13 L365.42,436.71 L366.30,437.28 L367.18,437.85 L368.06,438.42 L368.94,438.99 L369.82,439.55 L370.70,440.11 L371.58,440.67 L372.46,441.23 L373.34,441.78 L374.22,442.34 L375.09,442.89 L375.97,443.43 L376.85,443.98 L377.73,444.52 L378.61,445.06 L379.49,445.60 L380.37,446.14 L381.25,446.67 L382.13,447.21 L383.01,447.74 L383.88,448.27 L384.76,448.79 L385.64,449.32 L386.52,449.84 L387.40,450.36 L388.28,450.88 L389.16,451.39 L390.04,451.91 L390.92,452.42 L391.80,452.93 L392.68,453.44 L393.55,453.94 L394.43,454.45 L395.31,454.95 L396.19,455.45 L397.07,455.95 L397.95,456.44 L398.83,456.94 L399.71,457.43 L400.59,457.92 L401.47,458.41 L402.35,458.89 L403.22,459.38 L404.10,459.86 L404.98,460.34 L405.86,460.82 L406.74,461.30 L407.62,461.78 L408.50,462.25 L409.38,462.72 L410.26,463.19 L411.14,463.66 L412.01,464.13 L412.89,464.59 L413.77,465.05 L414.65,465.52 L415.53,465.98 L416.41,466.43 L417.29,466.89 L418.17,467.34 L419.05,467.80 L419.93,468.25 L420.81,468.70 L421.68,469.15 L422.56,469.59 L423.44,470.04 L424.32,470.48 L425.20,470.92 L426.08,471.36 L426.96,471.80 L427.84,472.23 L428.72,472.67 L429.60,473.10 L430.48,473.53 L431.35,473.96 L432.23,474.39 L433.11,474.82 L433.99,475.24 L434.87,475.67 L435.75,476.09 L436.63,476.51 L437.51,476.93 L438.39,477.35 L439.27,477.76 L440.15,478.18 L441.02,478.59 L441.90,479.00 L442.78,479.41 L443.66,479.82 L444.54,480.23 L445.42,480.63 L446.30,481.04 L447.18,481.44 L448.06,481.84 L448.94,482.24 L449.81,482.64 L450.69,483.04 L451.57,483.43 L452.45,483.83 L453.33,484.22 L454.21,484.61 L455.09,485.00 L455.97,485.39 L456.85,485.78 L457.73,486.17 L458.61,486.55 L459.48,486.94 L460.36,487.32 L461.24,487.70 L462.12,488.08 L463.00,488.46 L463.88,488.83 L464.76,489.21 L465.64,489.58 L466.52,489.96 L467.40,490.33 L468.28,490.70 L469.15,491.07 L470.03,491.44 L470.91,491.80 L471.79,492.17 L472.67,492.53 L473.55,492.89 L474.43,493.26 L475.31,493.62 L476.19,493.98 L477.07,494.33 L477.94,494.69 L478.82,495.05 L479.70,495.40 L480.58,495.75 L481.46,496.11 L482.34,496.46 L483.22,496.81 L484.10,497.16 L484.98,497.50 L485.86,497.85 L486.74,498.19 L487.61,498.54 L488.49,498.88 L489.37,499.22 L490.25,499.56 L491.13,499.90 L492.01,500.24 L492.89,500.58 L493.77,500.92 L494.65,501.25 L495.53,501.58 L496.41,501.92 L497.28,502.25 L498.16,502.58 L499.04,502.91 L499.92,503.24 L500.80,503.56 L501.68,503.89 L502.56,504.22 L503.44,504.54 L504.32,504.86 L505.20,505.19 L506.07,505.51 L506.95,505.83 L507.83,506.15 L508.71,506.46 L509.59,506.78 L510.47,507.10 L511.35,507.41 L512.23,507.73 L513.11,508.04 L513.99,508.35 L514.87,508.66 L515.74,508.97 L516.62,509.28 L517.50,509.59 L518.38,509.90 L519.26,510.20 L520.14,510.51 L521.02,510.81 L521.90,511.12 L522.78,511.42 L523.66,511.72 L524.54,512.02 L525.41,512.32 L526.29,512.62 L527.17,512.92 L528.05,513.21 L528.93,513.51 L529.81,513.80 L530.69,514.10 L531.57,514.39 L532.45,514.68 L533.33,514.98 L534.21,515.27 L535.08,515.56 L535.96,515.84 L536.84,516.13 L537.72,516.42 L538.60,516.70 L539.48,516.99 L540.36,517.27 L541.24,517.56 L542.12,517.84 L543.00,518.12 L543.87,518.40 L544.75,518.68 L545.63,518.96 L546.51,519.24 L547.39,519.52 L548.27,519.79 L549.15,520.07 L550.03,520.35 L550.91,520.62 L551.79,520.89 L552.67,521.17 L553.54,521.44 L554.42,521.71 L555.30,521.98 L556.18,522.25 L557.06,522.52 L557.94,522.78 L558.82,523.05 L559.70,523.32 L560.58,523.58 L561.46,523.85 L562.34,524.11 L563.21,524.37 L564.09,524.64 L564.97,524.90 L565.85,525.16 L566.73,525.42 L567.61,525.68 L568.49,525.94 L569.37,526.19 L570.25,526.45 L571.13,526.71 L572.00,526.96 L572.88,527.22 L573.76,527.47 L574.64,527.73 L575.52,527.98 L576.40,528.23 L577.28,528.48 L578.16,528.73 L579.04,528.98 L579.92,529.23 L580.80,529.48 L581.67,529.73 L582.55,529.97 L583.43,530.22 L584.31,530.47 L585.19,530.71 L586.07,530.95 L586.95,531.20 L587.83,531.44 L588.71,531.68 L589.59,531.92 L590.47,532.16 L591.34,532.40 L592.22,532.64 L593.10,532.88 L593.98,533.12 L594.86,533.36 L595.74,533.59 L596.62,533.83 L597.50,534.07 L598.38,534.30 L599.26,534.54 L600.14,534.77 L601.01,535.00 L601.89,535.23 L602.77,535.47 L603.65,535.70 L604.53,535.93 L605.41,536.16 L606.29,536.38 L607.17,536.61 L608.05,536.84 L608.93,537.07 L609.80,537.29 L610.68,537.52 L611.56,537.75 L612.44,537.97 L613.32,538.19 L614.20,538.42 L615.08,538.64 L615.96,538.86 L616.84,539.09 L617.72,539.31 L618.60,539.53 L619.47,539.75 L620.35,539.97 L621.23,540.18 L622.11,540.40 L622.99,540.62 L623.87,540.84 L624.75,541.05 L625.63,541.27 L626.51,541.48 L627.39,541.70 L628.27,541.91 L629.14,542.13 L630.02,542.34 L630.90,542.55 L631.78,542.76 L632.66,542.98 L633.54,543.19 L634.42,543.40 L635.30,543.61 L636.18,543.82 L637.06,544.02 L637.93,544.23 L638.81,544.44 L639.69,544.65 L640.57,544.85 L641.45,545.06 L642.33,545.26 L643.21,545.47 L644.09,545.67 L644.97,545.88 L645.85,546.08 L646.73,546.28 L647.60,546.49 L648.48,546.69 L649.36,546.89 L650.24,547.09 L651.12,547.29 L652.00,547.49 L652.88,547.69 L653.76,547.89 L654.64,548.08 L655.52,548.28 L656.40,548.48 L657.27,548.68 L658.15,548.87 L659.03,549.07 L659.91,549.26 L660.79,549.46 L661.67,549.65 L662.55,549.85 L663.43,550.04 L664.31,550.23 L665.19,550.42 L666.06,550.62 L666.94,550.81 L667.82,551.00 L668.70,551.19 L669.58,551.38 L670.46,551.57 L671.34,551.76 L672.22,551.94 L673.10,552.13 L673.98,552.32 L674.86,552.51 L675.73,552.69 L676.61,552.88 L677.49,553.07 L678.37,553.25 L679.25,553.44 L680.13,553.62 L681.01,553.80 L681.89,553.99 L682.77,554.17 L683.65,554.35 L684.53,554.53 L685.40,554.72 L686.28,554.90 L687.16,555.08 L688.04,555.26 L688.92,555.44 L689.80,555.62 L690.68,555.80 L691.56,555.97 L692.44,556.15 L693.32,556.33 L694.20,556.51 L695.07,556.68 L695.95,556.86 L696.83,557.04 L697.71,557.21 L698.59,557.39 L699.47,557.56 L700.35,557.74 L701.23,557.91 L702.11,558.08 L702.99,558.26 L703.86,558.43 L704.74,558.60 L705.62,558.77 L706.50,558.95 L707.38,559.12 L708.26,559.29 L709.14,559.46 L710.02,559.63 L710.90,559.80 L711.78,559.97 L712.66,560.14 L713.53,560.30 L714.41,560.47 L715.29,560.64 L716.17,560.81 L717.05,560.97 L717.93,561.14 L718.81,561.31 L719.69,561.47 L720.57,561.64 L721.45,561.80 L722.33,561.97 L723.20,562.13 L724.08,562.29 L724.96,562.46 L725.84,562.62 L726.72,562.78 L727.60,562.94 L728.48,563.11 L729.36,563.27 L730.24,563.43 L731.12,563.59 L731.99,563.75 L732.87,563.91 L733.75,564.07 L734.63,564.23 L735.51,564.39 L736.39,564.55 L737.27,564.70 L738.15,564.86 L739.03,565.02 L739.91,565.18 L740.79,565.33 L741.66,565.49 L742.54,565.65 L743.42,565.80 L744.30,565.96 L745.18,566.11 L746.06,566.27 L746.94,566.42 L747.82,566.58 L748.70,566.73 L749.58,566.88 L750.46,567.04 L751.33,567.19 L752.21,567.34 L753.09,567.49 L753.97,567.64 L754.85,567.80 L755.73,567.95 L756.61,568.10 L757.49,568.25 L758.37,568.40 L759.25,568.55 L760.13,568.70 L761.00,568.85 L761.88,568.99 L762.76,569.14 L763.64,569.29 L764.52,569.44 L765.40,569.59 L766.28,569.73 L767.16,569.88 L768.04,570.03 L768.92,570.17 L769.79,570.32 L770.67,570.46 L771.55,570.61 L772.43,570.75 L773.31,570.90 L774.19,571.04 L775.07,571.19 L775.95,571.33 L776.83,571.47 L777.71,571.62 L778.59,571.76 L779.46,571.90 L780.34,572.04 L781.22,572.19 L782.10,572.33 L782.98,572.47 L783.86,572.61 L784.74,572.75 L785.62,572.89 L786.50,573.03 L787.38,573.17 L788.26,573.31 L789.13,573.45 L790.01,573.59 L790.89,573.73 L791.77,573.86 L792.65,574.00 L793.53,574.14 L794.41,574.28 L795.29,574.41 L796.17,574.55 L797.05,574.69 L797.92,574.82 L798.80,574.96 L799.68,575.10 L800.56,575.23 L801.44,575.37 L802.32,575.50 L803.20,575.64 L804.08,575.77 L804.96,575.90 L805.84,576.04 L806.72,576.17 L807.59,576.30 L808.47,576.44 L809.35,576.57 L810.23,576.70 L811.11,576.83 L811.99,576.97 L812.87,577.10 L813.75,577.23 L814.63,577.36 L815.51,577.49 L816.39,577.62 L817.26,577.75 L818.14,577.88 L819.02,578.01 L819.90,578.14 L820.78,578.27 L821.66,578.40 L822.54,578.53 L823.42,578.66 L824.30,578.78 L825.18,578.91 L826.05,579.04 L826.93,579.17 L827.81,579.29 L828.69,579.42 L829.57,579.55 L830.45,579.67 L831.33,579.80 L832.21,579.93 L833.09,580.05 L833.97,580.18 L834.85,580.30 L835.72,580.43 L836.60,580.55 L837.48,580.68 L838.36,580.80 L839.24,580.92 L840.12,581.05 L841.00,581.17 L841.88,581.29 L842.76,581.42 L843.64,581.54 L844.52,581.66 L845.39,581.78 L846.27,581.91 L847.15,582.03 L848.03,582.15 L848.91,582.27 L849.79,582.39 L850.67,582.51 L851.55,582.63 L852.43,582.75 L853.31,582.87 L854.19,582.99 L855.06,583.11 L855.94,583.23 L856.82,583.35 L857.70,583.47 L858.58,583.59 L859.46,583.71 L860.34,583.83 L861.22,583.94 L862.10,584.06 L862.98,584.18 L863.85,584.30 L864.73,584.41 L865.61,584.53 L866.49,584.65 L867.37,584.76 L868.25,584.88 L869.13,585.00 L870.01,585.11 L870.89,585.23 L871.77,585.34 L872.65,585.46 L873.52,585.57 L874.40,585.69 L875.28,585.80 L876.16,585.92 L877.04,586.03 L877.92,586.14 L878.80,586.26 L879.68,586.37 L880.56,586.48 L881.44,586.60 L882.32,586.71 L883.19,586.82 L884.07,586.94 L884.95,587.05 L885.83,587.16 L886.71,587.27 L887.59,587.38 L888.47,587.49 L889.35,587.60 L890.23,587.72 L891.11,587.83 L891.98,587.94 L892.86,588.05 L893.74,588.16 L894.62,588.27 L895.50,588.38 L896.38,588.49 L897.26,588.60 L898.14,588.70 L899.02,588.81 L899.90,588.92 L900.78,589.03 L901.65,589.14 L902.53,589.25 L903.41,589.36 L904.29,589.46 L905.17,589.57 L906.05,589.68 L906.93,589.78 L907.81,589.89 L908.69,590.00 L909.57,590.10 L910.45,590.21 L911.32,590.32 L912.20,590.42 L913.08,590.53 L913.96,590.63 L914.84,590.74 L915.72,590.85 L916.60,590.95 L917.48,591.06 L918.36,591.16 L919.24,591.26 L920.12,591.37 L920.99,591.47 L921.87,591.58 L922.75,591.68 L923.63,591.78 L924.51,591.89 L925.39,591.99 L926.27,592.09 L927.15,592.20 L928.03,592.30 L928.91,592.40 L929.78,592.50 L930.66,592.61 L931.54,592.71 L932.42,592.81 L933.30,592.91 L934.18,593.01 L935.06,593.11 L935.94,593.21 L936.82,593.31 L937.70,593.42 L938.58,593.52 L939.45,593.62 L940.33,593.72 L941.21,593.82 L942.09,593.92 L942.97,594.02 L943.85,594.11 L944.73,594.21 L945.61,594.31 L946.49,594.41 L947.37,594.51 L948.25,594.61 L949.12,594.71 L950.00,594.81 L950.88,594.90 L951.76,595.00 L952.64,595.10 L953.52,595.20 L954.40,595.29 L955.28,595.39 L956.16,595.49 L957.04,595.59 L957.91,595.68 L958.79,595.78 L959.67,595.88 L960.55,595.97 L961.43,596.07 L962.31,596.16 L963.19,596.26 L964.07,596.35 L964.95,596.45 L965.83,596.55 L966.71,596.64 L967.58,596.74 L968.46,596.83 L969.34,596.92 L970.22,597.02 L971.10,597.11 L971.98,597.21 L972.86,597.30 L973.74,597.39 L974.62,597.49 L975.50,597.58 L976.38,597.68 L977.25,597.77 L978.13,597.86 L979.01,597.95 L979.89,598.05 L980.77,598.14 L981.65,598.23 L982.53,598.32 L983.41,598.42 L984.29,598.51 L985.17,598.60 L986.04,598.69 L986.92,598.78 L987.80,598.87 L988.68,598.97 L989.56,599.06 L990.44,599.15 L991.32,599.24 L992.20,599.33 L993.08,599.42 L993.96,599.51 L994.84,599.60 L995.71,599.69 L996.59,599.78 L997.47,599.87 L998.35,599.96 L999.23,600.05 L1000.11,600.14 L1000.99,600.23 L1001.87,600.32 L1002.75,600.40 L1003.63,600.49 L1004.51,600.58 L1005.38,600.67 L1006.26,600.76 L1007.14,600.85 L1008.02,600.93 L1008.90,601.02 L1009.78,601.11 L1010.66,601.20 L1011.54,601.28 L1012.42,601.37 L1013.30,601.46 L1014.18,601.55 L1015.05,601.63 L1015.93,601.72 L1016.81,601.81 L1017.69,601.89 L1018.57,601.98 L1019.45,602.06 L1020.33,602.15 L1021.21,602.24 L1022.09,602.32 L1022.97,602.41 L1023.84,602.49 L1024.72,602.58 L1025.60,602.66 L1026.48,602.75 L1027.36,602.83 L1028.24,602.92 L1029.12,603.00 L1030.00,603.09 L1030.88,603.17 L1031.76,603.26 L1032.64,603.34 L1033.51,603.42 L1034.39,603.51 L1035.27,603.59 L1036.15,603.68 L1037.03,603.76 L1037.91,603.84 L1038.79,603.93 L1039.67,604.01 L1040.55,604.09 L1041.43,604.17 L1042.31,604.26 L1043.18,604.34 L1044.06,604.42 L1044.94,604.50 L1045.82,604.59 L1046.70,604.67 L1047.58,604.75 L1048.46,604.83 L1049.34,604.91 L1050.22,605.00 L1051.10,605.08 L1051.97,605.16 L1052.85,605.24 L1053.73,605.32 L1054.61,605.40 L1055.49,605.48 L1056.37,605.56 L1057.25,605.64 L1058.13,605.72 L1059.01,605.80 L1059.89,605.88 L1060.77,605.96 L1061.64,606.04 L1062.52,606.12 L1063.40,606.20 L1064.28,606.28 L1065.16,606.36 L1066.04,606.44 L1066.92,606.52 L1067.80,606.60 L1068.68,606.68 L1069.56,606.76 L1070.44,606.84 L1071.31,606.91 L1072.19,606.99 L1073.07,607.07 L1073.95,607.15 L1074.83,607.23 L1075.71,607.31 L1076.59,607.38 L1077.47,607.46 L1078.35,607.54 L1079.23,607.62 L1080.11,607.69 L1080.98,607.77 L1081.86,607.85 L1082.74,607.93 L1083.62,608.00 L1084.50,608.08 L1085.38,608.16 L1086.26,608.23 L1087.14,608.31 L1088.02,608.38 L1088.90,608.46 L1089.77,608.54 L1090.65,608.61 L1091.53,608.69 L1092.41,608.77 L1093.29,608.84 L1094.17,608.92 L1095.05,608.99 L1095.93,609.07 L1096.81,609.14 L1097.69,609.22 L1098.57,609.29 L1099.44,609.37 L1100.32,609.44 L1101.20,609.52 L1102.08,609.59 L1102.96,609.67 L1103.84,609.74 L1104.72,609.81 L1105.60,609.89 L1106.48,609.96 L1107.36,610.04 L1108.24,610.11 L1109.11,610.18 L1109.99,610.26 L1110.87,610.33 L1111.75,610.40 L1112.63,610.48 L1113.51,610.55 L1114.39,610.62 L1115.27,610.70 L1116.15,610.77 L1117.03,610.84 L1117.90,610.92 L1118.78,610.99 L1119.66,611.06 L1120.54,611.13 L1121.42,611.20 L1122.30,611.28 L1123.18,611.35 L1124.06,611.42 L1124.94,611.49 L1125.82,611.56 L1126.70,611.64 L1127.57,611.71 L1128.45,611.78 L1129.33,611.85 L1130.21,611.92 L1131.09,611.99 L1131.97,612.06 L1132.85,612.13 L1133.73,612.20 L1134.61,612.28 L1135.49,612.35 L1136.37,612.42 L1137.24,612.49 L1138.12,612.56 L1139.00,612.63 L1139.88,612.70 L1140.76,612.77 L1141.64,612.84 L1142.52,612.91 L1143.40,612.98 L1144.28,613.05 L1145.16,613.12 L1146.03,613.19 L1146.91,613.25 L1147.79,613.32 L1148.67,613.39 L1149.55,613.46 L1150.43,613.53 L1151.31,613.60 L1152.19,613.67 L1153.07,613.74 L1153.95,613.81 L1154.83,613.87 L1155.70,613.94 L1156.58,614.01 L1157.46,614.08 L1158.34,614.15 L1159.22,614.21 L1160.10,614.28" fill="none" stroke="#000" stroke-width="5.9" stroke-dasharray="11.1,5.56" stroke-dashoffset="5.55"/>
</g>
<line x1="201.92" y1="8.0" x2="201.92" y2="16.4" stroke="#000" stroke-width="2.7"/>
<line x1="201.92" y1="720.5" x2="201.92" y2="712.1" stroke="#000" stroke-width="2.7"/>
<line x1="393.55" y1="8.0" x2="393.55" y2="16.4" stroke="#000" stroke-width="2.7"/>
<line x1="393.55" y1="720.5" x2="393.55" y2="712.1" stroke="#000" stroke-width="2.7"/>
<line x1="585.19" y1="8.0" x2="585.19" y2="16.4" stroke="#000" stroke-width="2.7"/>
<line x1="585.19" y1="720.5" x2="585.19" y2="712.1" stroke="#000" stroke-width="2.7"/>
<line x1="776.83" y1="8.0" x2="776.83" y2="16.4" stroke="#000" stroke-width="2.7"/>
<line x1="776.83" y1="720.5" x2="776.83" y2="712.1" stroke="#000" stroke-width="2.7"/>
<line x1="968.46" y1="8.0" x2="968.46" y2="16.4" stroke="#000" stroke-width="2.7"/>
<line x1="968.46" y1="720.5" x2="968.46" y2="712.1" stroke="#000" stroke-width="2.7"/>
<line x1="1160.10" y1="8.0" x2="1160.10" y2="16.4" stroke="#000" stroke-width="2.7"/>
<line x1="1160.10" y1="720.5" x2="1160.10" y2="712.1" stroke="#000" stroke-width="2.7"/>
<line x1="106.1" y1="720.50" x2="114.5" y2="720.50" stroke="#000" stroke-width="2.7"/>
<line x1="1160.1" y1="720.50" x2="1151.6999999999998" y2="720.50" stroke="#000" stroke-width="2.7"/>
<line x1="106.1" y1="542.38" x2="114.5" y2="542.38" stroke="#000" stroke-width="2.7"/>
<line x1="1160.1" y1="542.38" x2="1151.6999999999998" y2="542.38" stroke="#000" stroke-width="2.7"/>
<line x1="106.1" y1="364.25" x2="114.5" y2="364.25" stroke="#000" stroke-width="2.7"/>
<line x1="1160.1" y1="364.25" x2="1151.6999999999998" y2="364.25" stroke="#000" stroke-width="2.7"/>
<line x1="106.1" y1="186.12" x2="114.5" y2="186.12" stroke="#000" stroke-width="2.7"/>
<line x1="1160.1" y1="186.12" x2="1151.6999999999998" y2="186.12" stroke="#000" stroke-width="2.7"/>
<line x1="106.1" y1="8.00" x2="114.5" y2="8.00" stroke="#000" stroke-width="2.7"/>
<line x1="1160.1" y1="8.00" x2="1151.6999999999998" y2="8.00" stroke="#000" stroke-width="2.7"/>
<rect x="106.1" y="8.0" width="1054.0" height="712.5" fill="none" stroke="#000" stroke-width="2.2"/>
<g transform="translate(99.6,32.20) scale(1,1.03)"><text font-size="33.3" text-anchor="end">0.20</text></g>
<g transform="translate(99.6,198.32) scale(1,1.03)"><text font-size="33.3" text-anchor="end">0.15</text></g>
<g transform="translate(99.6,554.58) scale(1,1.03)"><text font-size="33.3" text-anchor="end">0.05</text></g>
<g transform="translate(99.6,732.50) scale(1,1.03)"><text font-size="33.3" text-anchor="end">0.00</text></g>
<text x="201.92" y="758.9" font-size="33.3" text-anchor="middle">4</text>
<text x="393.55" y="758.9" font-size="33.3" text-anchor="middle">6</text>
<text x="585.19" y="758.9" font-size="33.3" text-anchor="middle">8</text>
<text x="776.83" y="758.9" font-size="33.3" text-anchor="middle">10</text>
<text x="968.46" y="758.9" font-size="33.3" text-anchor="middle">12</text>
<text x="1167.4" y="758.9" font-size="33.3" text-anchor="end">14</text>
<text x="621.8" y="804.1" font-size="33.3">r</text>
<text x="633.3" y="806.9" font-size="20">0</text>
<g transform="translate(32.2,405) rotate(-90)"><g transform="translate(-2.5,-1.0) scale(1,1.1)"><text x="0" y="0" font-size="33.3">∑</text></g><g transform="translate(28.5,-0.3) scale(1,1.06)"><text x="0" y="0" font-size="33.3">|</text></g><text x="37.1" y="0" font-size="33.3">w</text><g transform="translate(61.3,-0.3) scale(1,1.06)"><text x="0" y="0" font-size="33.3">|</text></g><text x="69.5" y="-15.4" font-size="20">2</text></g>
<rect x="778.0" y="63.15" width="8.90" height="5.9" fill="#000"/>
<rect x="792.0" y="63.15" width="11.20" height="5.9" fill="#000"/>
<rect x="808.9" y="63.15" width="9.20" height="5.9" fill="#000"/>
<rect x="778.0" y="102.02" width="8.90" height="5.9" fill="#000"/>
<rect x="792.0" y="102.02" width="11.20" height="5.9" fill="#000"/>
<rect x="808.9" y="102.02" width="9.20" height="5.9" fill="#000"/>
<rect x="778" y="127.84" width="40" height="32" fill="#bfbfbf"/>
<line x1="778" y1="128.24" x2="818" y2="128.24" stroke="#808080" stroke-width="1" stroke-opacity="0.8"/>
<line x1="778" y1="159.44" x2="818" y2="159.44" stroke="#808080" stroke-width="1" stroke-opacity="0.8"/>
<line x1="778" y1="143.84" x2="818" y2="143.84" stroke="#808080" stroke-width="4"/>
<polygon points="798.00,134.24 807.60,143.84 798.00,153.44 788.40,143.84" fill="#808080" stroke="#000" stroke-width="1"/>
<rect x="778" y="166.71" width="40" height="32" fill="#ff80ff"/>
<line x1="778" y1="167.11" x2="818" y2="167.11" stroke="#ff00ff" stroke-width="1" stroke-opacity="0.8"/>
<line x1="778" y1="198.31" x2="818" y2="198.31" stroke="#ff00ff" stroke-width="1" stroke-opacity="0.8"/>
<line x1="778" y1="182.71" x2="818" y2="182.71" stroke="#ff00ff" stroke-width="4"/>
<rect x="791.00" y="175.71" width="14.0" height="14.0" rx="3.6" ry="3.6" fill="#ff00ff" stroke="#000" stroke-width="1"/>
<rect x="778" y="205.58" width="40" height="32" fill="#8080ff"/>
<line x1="778" y1="205.98" x2="818" y2="205.98" stroke="#0000ff" stroke-width="1" stroke-opacity="0.8"/>
<line x1="778" y1="237.18" x2="818" y2="237.18" stroke="#0000ff" stroke-width="1" stroke-opacity="0.8"/>
<line x1="778" y1="221.58" x2="818" y2="221.58" stroke="#0000ff" stroke-width="4"/>
<rect x="791.00" y="214.58" width="14.0" height="14.0" rx="3.6" ry="3.6" fill="#0000ff" stroke="#000" stroke-width="1"/>
<rect x="778" y="244.45" width="40" height="32" fill="#80c080"/>
<line x1="778" y1="244.85" x2="818" y2="244.85" stroke="#008000" stroke-width="1" stroke-opacity="0.8"/>
<line x1="778" y1="276.05" x2="818" y2="276.05" stroke="#008000" stroke-width="1" stroke-opacity="0.8"/>
<line x1="778" y1="260.45" x2="818" y2="260.45" stroke="#008000" stroke-width="4"/>
<rect x="791.00" y="253.45" width="14.0" height="14.0" rx="3.6" ry="3.6" fill="#008000" stroke="#000" stroke-width="1"/>
<rect x="778" y="283.32" width="40" height="32" fill="#ff8080"/>
<line x1="778" y1="283.72" x2="818" y2="283.72" stroke="#ff0000" stroke-width="1" stroke-opacity="0.8"/>
<line x1="778" y1="314.92" x2="818" y2="314.92" stroke="#ff0000" stroke-width="1" stroke-opacity="0.8"/>
<line x1="778" y1="299.32" x2="818" y2="299.32" stroke="#ff0000" stroke-width="4"/>
<rect x="791.00" y="292.32" width="14.0" height="14.0" rx="3.6" ry="3.6" fill="#ff0000" stroke="#000" stroke-width="1"/>
<rect x="778" y="322.19" width="40" height="32" fill="#808080"/>
<line x1="778" y1="322.59" x2="818" y2="322.59" stroke="#000000" stroke-width="1" stroke-opacity="0.8"/>
<line x1="778" y1="353.79" x2="818" y2="353.79" stroke="#000000" stroke-width="1" stroke-opacity="0.8"/>
<line x1="778" y1="338.19" x2="818" y2="338.19" stroke="#000000" stroke-width="4"/>
<rect x="791.00" y="331.19" width="14.0" height="14.0" rx="3.6" ry="3.6" fill="#000000" stroke="#000" stroke-width="1"/>
<text x="856.8" y="78.20" font-size="32.8">Harm. Osc. (shell)</text>
<text x="856.8" y="117.07" font-size="32.8">Harm. Osc. (ball)</text>
<text x="856.8" y="155.94" font-size="32.8">L=∞</text>
<text x="856.8" y="194.81" font-size="32.8">L=24</text>
<text x="856.8" y="233.68" font-size="32.8">L=16</text>
<text x="856.8" y="272.55" font-size="32.8">L=12</text>
<text x="856.8" y="311.42" font-size="32.8">L=10</text>
<text x="856.8" y="350.29" font-size="32.8">L=8</text>
</svg></body></html>
